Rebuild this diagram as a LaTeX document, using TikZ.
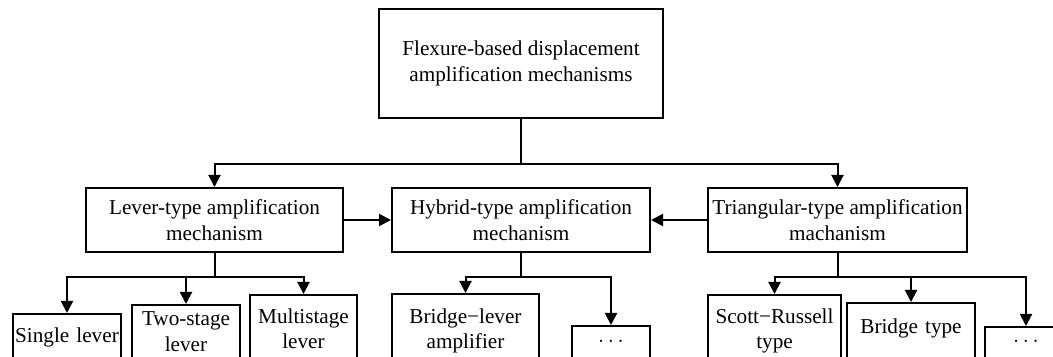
\documentclass[tikz,border=0pt]{standalone}
\usepackage{fontspec}
\setmainfont{Liberation Serif}
\usetikzlibrary{arrows.meta}

\begin{document}
\begin{tikzpicture}[x=0.5pt,y=-0.5pt,
  font=\fontsize{10.6}{13}\selectfont,
  box/.style={draw,line width=1pt,align=center,inner sep=1pt},
  leaf/.style n args={2}{draw,line width=1pt,anchor=north,align=center,
    inner xsep=1pt,inner ysep=2pt,text width=#1,text height=#2,text depth=30pt},
  link/.style={line width=1pt},
  arr/.style={line width=1pt,-{Triangle[length=6pt,width=6pt]}}]
\useasboundingbox (0,0) rectangle (1053,357);

%顶层
\node[box,minimum width=142pt,minimum height=54.5pt] (flex) at (521,63.5) {Flexure-based displacement\\amplification mechanisms};

%第二层
\node[box,minimum width=128.5pt,minimum height=32pt] (lever) at (214.5,220) {Lever-type amplification\\mechanism};
\node[box,minimum width=129pt,minimum height=32pt] (hybrid) at (521,220) {Hybrid-type amplification\\mechanism};
\node[box,minimum width=129.5pt,minimum height=32pt] (tri) at (837.5,220) {Triangular-type amplification\\machanism};

%第三层
\node[leaf={52pt}{12.5pt}] (single) at (67,313) {Single lever};
\node[leaf={52pt}{8.5pt}] (twostage) at (186,304) {Two-stage\\lever};
\node[leaf={51.5pt}{12pt}] (multi) at (303.5,294) {Multistage\\lever};
\node[leaf={71.5pt}{12.5pt}] (bridgelever) at (465.5,293) {Bridge−lever\\amplifier};
\node[leaf={37pt}{6.5pt}] (hdots) at (611,325) {$\dots$};
\node[leaf={64.5pt}{12pt}] (scott) at (774.5,294) {Scott−Russell\\type};
\node[leaf={62pt}{13.5pt}] (bridgetype) at (911,302) {Bridge type};
\node[leaf={39pt}{6pt}] (tdots) at (1026,326) {$\dots$};

%顶层连线
\coordinate (s0) at (521,164);
\draw[link] (flex.south) -- (s0);
\draw[arr] (s0) -| (lever.north);
\draw[arr] (s0) -| (tri.north);
\draw[arr] (lever.east) -- (hybrid.west);
\draw[arr] (tri.west) -- (hybrid.east);

%第二层连线
\coordinate (s1) at (214.5,277);
\draw[link] (lever.south) -- (s1);
\draw[arr] (s1) -| (single.north);
\draw[arr] (s1) -| (twostage.north);
\draw[arr] (s1) -| (multi.north);
\coordinate (s2) at (521,277);
\draw[link] (hybrid.south) -- (s2);
\draw[arr] (s2) -| (bridgelever.north);
\draw[arr] (s2) -| (hdots.north);
\coordinate (s3) at (837.5,277);
\draw[link] (tri.south) -- (s3);
\draw[arr] (s3) -| (scott.north);
\draw[arr] (s3) -| (bridgetype.north);
\draw[arr] (s3) -| (tdots.north);
\end{tikzpicture}
\end{document}
